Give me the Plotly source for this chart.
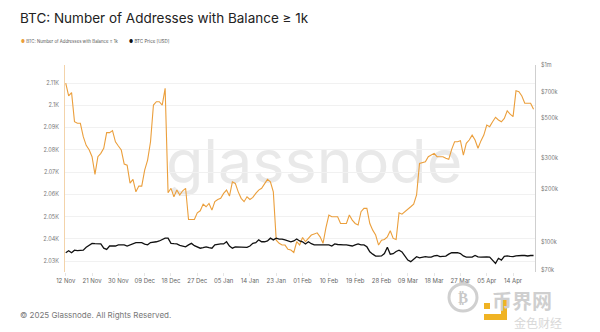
import plotly.graph_objects as go
import pandas as pd

start_date = "2024-11-12"

addresses = [
    2110, 2104.2, 2105.7, 2092.6, 2091.9, 2091.9, 2085.9, 2082, 2080, 2076.9,
    2069, 2076.9, 2078.4, 2080.7, 2087.7, 2087.7, 2088.6, 2083.6, 2081.7, 2079.9,
    2073.6, 2073.1, 2065, 2066.7, 2061.1, 2063.7, 2063.7, 2070.9, 2075.4, 2083.6,
    2100.1, 2101.6, 2101.6, 2100.1, 2107.6, 2060.7, 2062.7, 2058.9, 2061.9, 2059.7,
    2061.6, 2062.7, 2048.7, 2048.7, 2048.7, 2051.7, 2052.6, 2055.6, 2054.4, 2055.9,
    2052.9, 2056.7, 2057.7, 2058.2, 2060.4, 2061.9, 2059.2, 2065.6, 2064.9, 2061.1,
    2058.2, 2056.7, 2058.9, 2057.7, 2058.6, 2060.4, 2061.9, 2062.7, 2064.5, 2066.7,
    2065.6, 2061.1, 2039.4, 2038, 2037.2, 2037.2, 2035.3, 2035, 2033.9, 2038.7,
    2037.2, 2040.6, 2038.7, 2040.2, 2041.7, 2042.2, 2042.7, 2040.9, 2038, 2045,
    2050.7, 2049.9, 2049.9, 2049.9, 2046.9, 2046.9, 2046.9, 2050.7, 2048.4, 2046.9,
    2046.2, 2052.2, 2053.7, 2053.7, 2046.9, 2043.9, 2041.7, 2037.2, 2039.4, 2039.7,
    2040.9, 2043.6, 2040.2, 2039.7, 2051.7, 2051.1, 2052.2, 2052.9, 2054.4, 2055.6,
    2059.7, 2073.9, 2074.2, 2074.6, 2076.9, 2077.6, 2078.4, 2076.9, 2076.9, 2076.9,
    2076.2, 2075.7, 2080.2, 2083.6, 2083.6, 2084.1, 2077.6, 2082.9, 2084.4, 2086.6,
    2084.4, 2080.7, 2084, 2086.6, 2091.1, 2090.4, 2092.6, 2094.6, 2093.4, 2092.6,
    2094.1, 2097.5, 2096, 2094.9, 2106.5, 2106.1, 2104.2, 2100.9, 2100.9, 2100.9,
    2098.2,
]

price_k = [
    87.6, 89.9, 87.6, 90.6, 90, 89.9, 90.6, 94, 96.5, 98.9,
    98.5, 98.2, 98.2, 93, 91.5, 95.6, 95.6, 95.6, 97, 97,
    97, 95.6, 97, 98.9, 99.8, 99.8, 99.8, 98, 97, 100,
    101, 101, 102, 103.5, 105.8, 105.8, 98.9, 98.5, 98.2, 96.5,
    95.6, 94.6, 97, 98.9, 96, 94.6, 92.9, 93.5, 94.6, 93.5,
    92.9, 97, 98, 98.2, 98.2, 101, 95.6, 92.9, 94.6, 94.6,
    94.6, 94.2, 94, 95.6, 98.9, 99.8, 103.5, 101, 101, 102,
    105.8, 103.5, 105.8, 104.5, 104.6, 103.5, 102, 101, 102, 104.6,
    102, 101, 98.2, 101, 98.5, 97, 97, 97, 97, 97,
    97, 95.6, 98.2, 97.5, 97, 97, 97, 96, 95.6, 97,
    98.2, 97, 97, 94.6, 88.7, 86, 83.9, 83.9, 84, 86.7,
    94, 86, 86.5, 89, 90.6, 88.5, 83.9, 79.6, 78, 81,
    83.2, 82, 82.5, 83.2, 82.8, 82.8, 84, 84.5, 83.2, 83.5,
    83.9, 86, 87.6, 87.6, 87.6, 86.7, 84, 82.8, 82.8, 82.8,
    84.5, 83, 82.8, 83.2, 83, 82.8, 79, 76.3, 81.5, 79.6,
    83.5, 84, 83.5, 83.2, 84, 84.5, 84.5, 84.5, 84, 84.5,
    84.5,
]

left_tickvals = [2030, 2040, 2050, 2060, 2070, 2080, 2090, 2100, 2110]
left_ticktext = ["2.03K", "2.04K", "2.05K", "2.06K", "2.07K", "2.08K", "2.09K", "2.1K", "2.11K"]
right_tickvals = [70000, 100000, 200000, 300000, 500000, 700000, 1000000]
right_ticktext = ["$70k", "$100k", "$200k", "$300k", "$500k", "$700k", "$1m"]

dates = pd.date_range(start_date, periods=len(addresses), freq="D")
dates_p = pd.date_range(start_date, periods=len(price_k), freq="D")

ORANGE = "#eb9f3c"
FONT = "Inter"

# pixel -> paper helpers for decorations
def px(x):
    return (x - 65) / 470

def py(y):
    return (272 - y) / 207

fig = go.Figure()
fig.add_trace(go.Scatter(x=dates, y=addresses, mode="lines",
                         line=dict(color=ORANGE, width=1.1), yaxis="y",
                         name="BTC: Number of Addresses with Balance ≥ 1k", showlegend=False))
fig.add_trace(go.Scatter(x=dates_p, y=[p * 1000 for p in price_k], mode="lines",
                         line=dict(color="#111111", width=1.3), yaxis="y2",
                         name="BTC Price [USD]", showlegend=False))

fig.update_layout(
    width=600, height=332,
    margin=dict(l=65, r=65, t=65, b=60),
    paper_bgcolor="white", plot_bgcolor="white",
    font=dict(family=FONT, color="#666666", size=6),
    xaxis=dict(
        range=["2024-11-11 18:00", "2025-04-21 12:00"],
        tick0="2024-11-12", dtick=9 * 86400000, tickformat="%d %b",
        showgrid=False, showline=False, zeroline=False,
        ticks="outside", ticklen=3, tickcolor="#e6e6e6",
        tickfont=dict(size=6, color="#666666"),
    ),
    yaxis=dict(
        range=[2025.1, 2118.1], tickvals=left_tickvals, ticktext=left_ticktext,
        showgrid=True, gridcolor="#f1f1f1", gridwidth=1, zeroline=False,
        showline=True, linecolor="#f3d3aa", linewidth=1,
        tickfont=dict(size=5.5, color="#777777"), ticks="", ticklabelstandoff=4,
    ),
    yaxis2=dict(
        type="log", range=[4.834, 6.0], overlaying="y", side="right",
        tickvals=right_tickvals, ticktext=right_ticktext,
        showgrid=False, zeroline=False,
        showline=True, linecolor="#cfcfcf", linewidth=1,
        tickfont=dict(size=5.5, color="#777777"), ticks="", ticklabelstandoff=4,
    ),
    shapes=[
        dict(type="rect", xref="paper", yref="paper", x0=0.28, x1=0.78, y0=0.37, y1=0.72,
             layer="below", line=dict(width=0), fillcolor="rgba(0,0,0,0)",
             label=dict(text="glassnode", textposition="middle center",
                        font=dict(family=FONT, size=61, color="#e9e9e9"))),
        dict(type="circle", xref="paper", yref="paper",
             x0=px(449), x1=px(477), y0=py(311), y1=py(284),
             line=dict(color="#d0d0d0", width=3)),
        dict(type="rect", xref="paper", yref="paper", x0=px(484), x1=px(490), y0=py(309), y1=py(303),
             line=dict(width=0), fillcolor="#f0b323"),
        dict(type="rect", xref="paper", yref="paper", x0=px(501), x1=px(507), y0=py(320), y1=py(300),
             line=dict(width=0), fillcolor="#f0b323"),
        dict(type="rect", xref="paper", yref="paper", x0=px(484), x1=px(507), y0=py(320), y1=py(314),
             line=dict(width=0), fillcolor="#f0b323"),
    ],
    annotations=[
        dict(text="BTC: Number of Addresses with Balance ≥ 1k", xref="paper", yref="paper",
             x=px(18), y=py(18), xanchor="left", yanchor="middle",
             showarrow=False, font=dict(family=FONT, size=13.5, color="#222222")),
        dict(text="<span style='color:%s'>●</span> BTC: Number of Addresses with Balance ≥ 1k" % ORANGE,
             xref="paper", yref="paper", x=px(19), y=py(42),
             xanchor="left", yanchor="middle", showarrow=False,
             font=dict(family=FONT, size=4.3, color="#555555")),
        dict(text="<span style='color:#111111'>●</span> BTC Price [USD]",
             xref="paper", yref="paper", x=px(127), y=py(42),
             xanchor="left", yanchor="middle", showarrow=False,
             font=dict(family=FONT, size=4.5, color="#555555")),
        dict(text="© 2025 Glassnode. All Rights Reserved.", xref="paper", yref="paper",
             x=px(18), y=py(315), xanchor="left", yanchor="middle",
             showarrow=False, font=dict(family=FONT, size=8, color="#777777")),
        dict(text="<b>币界网</b>", xref="paper", yref="paper",
             x=px(490), y=py(300), xanchor="left", yanchor="middle",
             showarrow=False, font=dict(family="Noto Sans CJK SC", size=20, color="#cfcfcf")),
        dict(text="金色财经", xref="paper", yref="paper",
             x=px(512), y=py(322), xanchor="left", yanchor="middle",
             showarrow=False, font=dict(family="Noto Sans CJK SC", size=12, color="#d8d8d8")),
        dict(text="<b>₿</b>", xref="paper", yref="paper",
             x=px(463), y=py(297.5), xanchor="center", yanchor="middle",
             showarrow=False, font=dict(family="DejaVu Sans", size=15, color="#c8c8c8")),
    ],
)

fig.write_html("out.html")
